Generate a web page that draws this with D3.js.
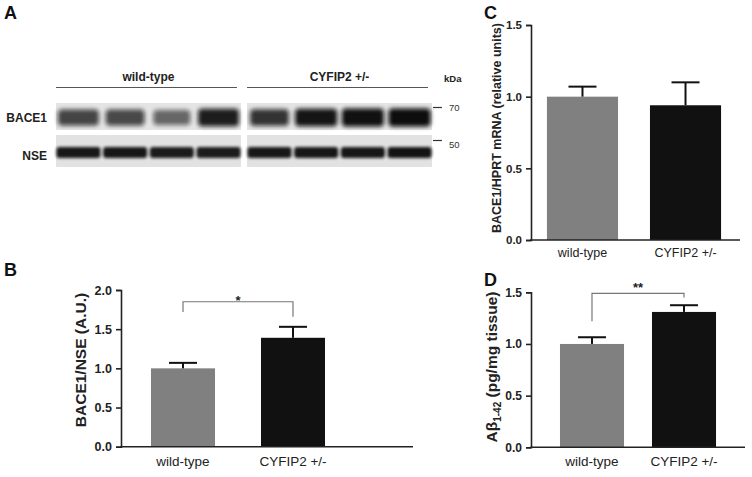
<!DOCTYPE html>
<html><head><meta charset="utf-8">
<script src="https://cdn.jsdelivr.net/npm/d3@7"></script>
<style>
body{margin:0;background:#fff;}
svg{display:block;font-family:"Liberation Sans",Arial,sans-serif;}
</style></head>
<body>
<svg id="fig" width="752" height="477"></svg>
<script>
// ---------- DATA ----------
const categories = ["wild-type", "CYFIP2 +/-"];
const barColors = ["#808080", "#111111"];
const yTicksB = [0, 0.5, 1.0, 1.5, 2.0];
const yTicksCD = [0, 0.5, 1.0, 1.5];

const bMeans = [1.00, 1.39];
const bErrors = [0.07, 0.14];
const cMeans = [1.00, 0.94];
const cErrors = [0.07, 0.16];
const dMeans = [1.00, 1.31];
const dErrors = [0.065, 0.065];

// significance brackets (value space): top, left end, right end
const bBracket = [1.85, 1.72, 1.66];
const dBracket = [1.49, 1.22, 1.45];
const bStars = "*";
const dStars = "**";

// western blot (panel A)
const blotGroups = ["wild-type", "CYFIP2 +/-"];
const laneIds = [1, 2, 3, 4];
const bace1Intensity = [[0.74, 0.72, 0.58, 0.92], [0.82, 0.96, 0.98, 1.00]];
const bace1Width = [[0.97, 0.92, 0.88, 0.97], [0.92, 1.00, 1.00, 1.00]];
const nseIntensity = [[0.95, 0.95, 0.93, 0.93], [0.95, 0.95, 0.95, 0.97]];
const markerLabels = ["70", "50"];

// ---------- DRAW ----------
const svg = d3.select("#fig");
const defs = svg.append("defs");
defs.append("filter").attr("id","blur").attr("x","-20%").attr("y","-60%").attr("width","140%").attr("height","220%")
  .append("feGaussianBlur").attr("stdDeviation", 2.2);
defs.append("filter").attr("id","blur2").attr("x","-20%").attr("y","-60%").attr("width","140%").attr("height","220%")
  .append("feGaussianBlur").attr("stdDeviation", 1.6);

function letter(t, x, y){
  svg.append("text").attr("x",x).attr("y",y).attr("font-size",18).attr("font-weight","bold").attr("fill","#111").text(t);
}
letter("A", 4, 19); letter("B", 4, 276); letter("C", 484, 19); letter("D", 484, 286);

// ---- Panel A: blot ----
const gA = svg.append("g");
const panelX = d3.scaleBand().domain(blotGroups).range([56, 432]).paddingInner(0.032).paddingOuter(0);
const rowY = {bace: [103, 130], nse: [135, 167]};
blotGroups.forEach((grp, gi) => {
  const x0 = panelX(grp), w = panelX.bandwidth();
  gA.append("text").attr("x", x0 + w/2).attr("y", 81).attr("text-anchor","middle")
    .attr("font-size", 12).attr("font-weight","bold").attr("fill","#222").text(grp);
  gA.append("line").attr("x1", x0).attr("x2", x0 + w - 4).attr("y1", 87.5).attr("y2", 87.5)
    .attr("stroke","#555").attr("stroke-width",1);
  const lane = d3.scaleBand().domain(laneIds).range([x0, x0 + w]).paddingInner(0.1).paddingOuter(0.03);
  gA.append("rect").attr("x", x0).attr("y", rowY.bace[0]).attr("width", w).attr("height", rowY.bace[1]-rowY.bace[0]).attr("fill","#e4e4e4");
  gA.append("rect").attr("x", x0).attr("y", rowY.nse[0]).attr("width", w).attr("height", rowY.nse[1]-rowY.nse[0]).attr("fill","#e2e2e2");
  laneIds.forEach((id, li) => {
    const inten = bace1Intensity[gi][li];
    const bw = lane.bandwidth() * bace1Width[gi][li];
    const cx = lane(id) + lane.bandwidth()/2;
    const bh = 11 + inten*7;
    gA.append("rect").attr("x", cx - bw/2).attr("y", 117.5 - bh/2).attr("width", bw).attr("height", bh)
      .attr("rx", 4).attr("fill","#0a0a0a").attr("opacity", inten).attr("filter","url(#blur)");
    const ni = nseIntensity[gi][li];
    gA.append("rect").attr("x", lane(id) - 1).attr("y", 147).attr("width", lane.bandwidth() + 2).attr("height", 11)
      .attr("rx", 3).attr("fill","#111").attr("opacity", ni).attr("filter","url(#blur2)");
  });
});
gA.append("text").attr("x", 47).attr("y", 122).attr("text-anchor","end").attr("font-size",12).attr("font-weight","bold").attr("fill","#222").text("BACE1");
gA.append("text").attr("x", 47).attr("y", 160).attr("text-anchor","end").attr("font-size",12).attr("font-weight","bold").attr("fill","#222").text("NSE");
gA.append("text").attr("x", 444).attr("y", 82).attr("font-size",9.5).attr("font-weight","bold").attr("fill","#222").text("kDa");
[[107.5, 111], [140.5, 148]].forEach((p, i) => {
  gA.append("line").attr("x1", 433).attr("x2", 442).attr("y1", p[0]).attr("y2", p[0]).attr("stroke","#333").attr("stroke-width",1.2);
  gA.append("text").attr("x", 449).attr("y", p[1]).attr("font-size",9.5).attr("fill","#333").text(markerLabels[i]);
});

// ---- Bar chart helper ----
function barChart(opt){
  const g = svg.append("g");
  const y = d3.scaleLinear().domain([0, opt.yMax]).range([opt.y0, opt.y1]);
  const x = d3.scaleBand().domain(categories).range(opt.xRange).paddingInner(opt.pi).paddingOuter(opt.po);
  g.selectAll("rect.bar").data(opt.means).join("rect")
    .attr("x", (d,i) => x(categories[i])).attr("width", x.bandwidth())
    .attr("y", d => y(d)).attr("height", d => y(0) - y(d))
    .attr("fill", (d,i) => barColors[i]);
  opt.means.forEach((m, i) => {
    const cx = x(categories[i]) + x.bandwidth()/2;
    const top = y(m + opt.errs[i]);
    g.append("line").attr("x1",cx).attr("x2",cx).attr("y1",y(m)).attr("y2",top).attr("stroke","#111").attr("stroke-width",2);
    g.append("line").attr("x1",cx-14).attr("x2",cx+14).attr("y1",top).attr("y2",top).attr("stroke","#111").attr("stroke-width",2);
  });
  const ya = g.append("g").attr("transform",`translate(${opt.axisX},0)`)
    .call(d3.axisLeft(y).tickValues(opt.ticks).tickFormat(d3.format(".1f")).tickSize(5).tickPadding(4));
  ya.selectAll("path,line").attr("stroke","#222").attr("stroke-width",1.6);
  ya.selectAll("text").attr("font-size",opt.tickFs).attr("font-weight","bold").attr("fill","#222")
    .attr("font-family","'Liberation Sans',Arial,sans-serif");
  g.append("line").attr("x1",opt.axisX - 0.8).attr("x2",opt.axisEnd).attr("y1",y(0)).attr("y2",y(0))
    .attr("stroke","#222").attr("stroke-width",1.6);
  const xa = g.append("g").attr("transform",`translate(0,${y(0)})`)
    .call(d3.axisBottom(x).tickSize(0).tickPadding(opt.xPad));
  xa.select(".domain").remove();
  xa.selectAll("text").attr("font-size",opt.xFs).attr("fill","#222").attr("font-family","'Liberation Sans',Arial,sans-serif");
  const lab = g.append("text").attr("transform",`translate(${opt.labX},${opt.labY}) rotate(-90)`)
    .attr("text-anchor","middle").attr("font-size",opt.labFs).attr("font-weight","bold").attr("fill","#222");
  opt.label(lab);
  if (opt.bracket){
    const [bt, bl, br] = opt.bracket;
    const xl = x(categories[0]) + x.bandwidth()/2, xr = x(categories[1]) + x.bandwidth()/2;
    g.append("path").attr("d", `M${xl},${y(bl)}V${y(bt)}H${xr}V${y(br)}`)
      .attr("fill","none").attr("stroke","#777").attr("stroke-width",1.2);
    g.append("text").attr("x",(xl+xr)/2).attr("y", y(bt) + opt.starDy).attr("text-anchor","middle")
      .attr("font-size",13).attr("font-weight","bold").attr("fill","#222").text(opt.stars);
  }
}

// Panel B
barChart({yMax:2, y0:446.7, y1:290, xRange:[129,347], pi:0.418, po:0.2, axisX:121, axisEnd:413,
  means:bMeans, errs:bErrors, ticks:yTicksB, tickFs:12.5, xFs:13.5, xPad:10,
  labX:86, labY:360, labFs:15.5, label: t => t.text("BACE1/NSE (A.U.)"),
  bracket:bBracket, stars:bStars, starDy:3});

// Panel C
barChart({yMax:1.5, y0:240, y1:25, xRange:[515,753], pi:0.31, po:0.31, axisX:531, axisEnd:740,
  means:cMeans, errs:cErrors, ticks:yTicksCD, tickFs:11.5, xFs:12.5, xPad:8,
  labX:501, labY:128, labFs:12.5, label: t => t.text("BACE1/HPRT mRNA (relative units)")});

// Panel D
barChart({yMax:1.5, y0:447.3, y1:292.3, xRange:[532,744], pi:0.304, po:0.304, axisX:531, axisEnd:745,
  means:dMeans, errs:dErrors, ticks:yTicksCD, tickFs:12, xFs:13.5, xPad:9,
  labX:497, labY:367, labFs:15.5, label: t => {
    t.append("tspan").text("Aβ");
    t.append("tspan").attr("font-size",10).attr("dy",4).text("1-42");
    t.append("tspan").attr("dy",-4).text(" (pg/mg tissue)");
  },
  bracket:dBracket, stars:dStars, starDy:-1});
</script>
</body></html>
